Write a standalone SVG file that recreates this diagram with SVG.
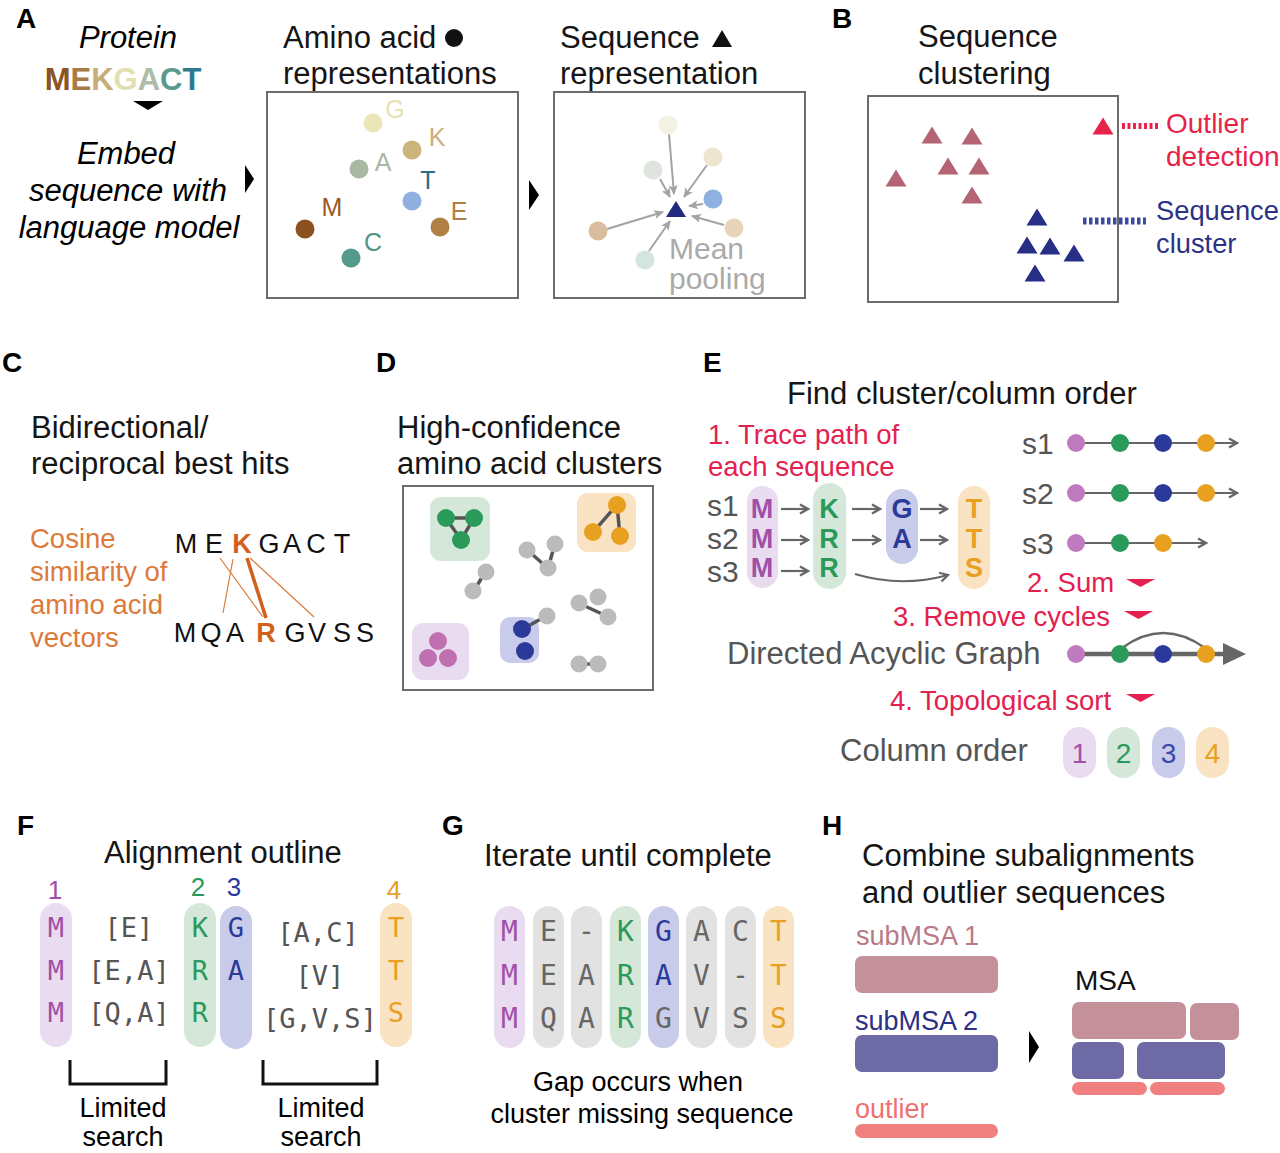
<svg xmlns="http://www.w3.org/2000/svg" width="1280" height="1153" viewBox="0 0 1280 1153">
<style>
text { font-family: "Liberation Sans", Arial, Helvetica, sans-serif; }
.pl { font-size: 28px; font-weight: bold; fill: #000; }
.ti { font-size: 31px; fill: #151515; }
.it { font-size: 31px; font-style: italic; fill: #000; text-anchor: middle; }
.box { fill: none; stroke: #6b6b6b; stroke-width: 2; }
.aa { font-size: 25px; text-anchor: middle; }
.red { font-size: 27.5px; fill: #e3204f; }
.gry { fill: #555; }
.org { fill: #dc7a3c; font-size: 27.5px; }
.seq { font-size: 27px; text-anchor: middle; fill: #111; }
.seqk { font-size: 27px; text-anchor: middle; font-weight: bold; fill: #d2601c; }
.mono { font-family: "DejaVu Sans Mono", "Liberation Mono", monospace; text-anchor: middle; }
.pb { font-size: 27px; font-weight: bold; text-anchor: middle; }
.lk { stroke: #555; stroke-width: 3.5; stroke-linecap: round; }
.ga { stroke: #a3a3a3; stroke-width: 2; fill: none; marker-end: url(#ha); }
.ea { stroke: #666; stroke-width: 2.2; fill: none; marker-end: url(#he); }
.cl { stroke: #dc7a3c; stroke-width: 1.2; }
.pP { fill: #eadcf0; } .pG { fill: #d5e7d8; } .pB { fill: #c8cbe9; } .pO { fill: #f9e3c3; } .pX { fill: #e2e2e2; }
.cP { fill: #a050a8; } .cG { fill: #2a9a5a; } .cB { fill: #2b3a9a; } .cO { fill: #e8a020; } .cX { fill: #666; }
.redtri { fill: #e3204f; }
</style>
<defs>
<marker id="ha" viewBox="0 0 10 10" refX="9" refY="5" markerWidth="10" markerHeight="10" markerUnits="userSpaceOnUse" orient="auto"><path d="M0,0.5 L10,5 L0,9.5 L2.5,5 Z" fill="#a3a3a3"/></marker>
<marker id="he" viewBox="0 0 12 12" refX="10" refY="6" markerWidth="12" markerHeight="12" markerUnits="userSpaceOnUse" orient="auto"><path d="M2,1.5 L10,6 L2,10.5" fill="none" stroke="#666" stroke-width="2.2"/></marker>
<path id="tri" d="M0,-8.5 L10.5,8.5 L-10.5,8.5 Z"/>
</defs>

<!-- ===== Panel A ===== -->
<g id="panelA">
  <text class="pl" x="16" y="28">A</text>
  <text class="it" x="128" y="48">Protein</text>
  <text x="123" y="90" text-anchor="middle" font-weight="bold" font-size="31"><tspan fill="#8a5424">M</tspan><tspan fill="#a87a45">E</tspan><tspan fill="#c7ad78">K</tspan><tspan fill="#e4dfb0">G</tspan><tspan fill="#aebca8">A</tspan><tspan fill="#5a9a8c">C</tspan><tspan fill="#2d7a92">T</tspan></text>
  <polygon points="133,101 163,101 148,110" fill="#000"/>
  <text class="it" x="126" y="164">Embed</text>
  <text class="it" x="128" y="201">sequence with</text>
  <text class="it" x="129" y="238">language model</text>
  <polygon points="245,165 245,193 254,179" fill="#000"/>
</g>
<g id="aa-box">
  <text class="ti" x="283" y="48">Amino acid</text>
  <circle cx="454" cy="38" r="9" fill="#111"/>
  <text class="ti" x="283" y="84">representations</text>
  <rect class="box" x="267" y="92" width="251" height="206"/>
  <polygon points="529,180 529,210 539,195" fill="#000"/>
</g>
<g id="aa-G"><circle cx="373" cy="123" r="9.5" fill="#ebe6b8"/><text class="aa" x="395" y="118" fill="#e6e2b5">G</text></g>
<g id="aa-K"><circle cx="412" cy="150" r="9.5" fill="#cbb37c"/><text class="aa" x="437" y="146" fill="#c9ae78">K</text></g>
<g id="aa-A"><circle cx="359" cy="169" r="9.5" fill="#a9b8a3"/><text class="aa" x="383" y="171" fill="#a9b7a5">A</text></g>
<g id="aa-T"><circle cx="412" cy="201" r="9.5" fill="#8fb0e0"/><text class="aa" x="428" y="189" fill="#2a6d88">T</text></g>
<g id="aa-M"><circle cx="305" cy="229" r="9.5" fill="#8b5220"/><text class="aa" x="332" y="216" fill="#9a5a24">M</text></g>
<g id="aa-E"><circle cx="440" cy="227" r="9.5" fill="#b08045"/><text class="aa" x="459" y="220" fill="#b08045">E</text></g>
<g id="aa-C"><circle cx="351" cy="258" r="9.5" fill="#559a8a"/><text class="aa" x="373" y="251" fill="#4f9485">C</text></g>

<g id="seq-box">
  <text class="ti" x="560" y="48">Sequence</text>
  <polygon points="712,47 732,47 722,30" fill="#111"/>
  <text class="ti" x="560" y="84">representation</text>
  <rect class="box" x="554" y="92" width="251" height="206"/>
</g>

<!-- ===== Panel B ===== -->
<g id="panelB">
  <text class="pl" x="832" y="28">B</text>
  <text class="ti" x="918" y="47">Sequence</text>
  <text class="ti" x="918" y="84">clustering</text>
  <rect class="box" x="868" y="96" width="250" height="206"/>
</g>
<g id="cluster1" fill="#b46473">
  <use href="#tri" x="932" y="135"/><use href="#tri" x="972" y="136"/><use href="#tri" x="948" y="166"/>
  <use href="#tri" x="979" y="166"/><use href="#tri" x="896" y="178"/><use href="#tri" x="972" y="195"/>
</g>
<g id="cluster2" fill="#262e86">
  <use href="#tri" x="1037" y="217"/><use href="#tri" x="1027" y="245"/><use href="#tri" x="1050" y="246"/>
  <use href="#tri" x="1074" y="253"/><use href="#tri" x="1035" y="273"/>
</g>
<g id="outlier"><use href="#tri" x="1103" y="126" fill="#e8234a"/></g>
<g id="outlier-label">
  <line x1="1122" y1="126" x2="1158" y2="126" stroke="#e8234a" stroke-width="6" stroke-dasharray="3 2.5"/>
  <text x="1166" y="133" font-size="28" fill="#e8234a">Outlier</text>
  <text x="1166" y="166" font-size="28" fill="#e8234a">detection</text>
</g>
<g id="cluster-label">
  <line x1="1083" y1="221" x2="1146" y2="221" stroke="#3a4aa0" stroke-width="7" stroke-dasharray="3.5 2.5"/>
  <text x="1156" y="220" font-size="27.3" fill="#2b3285">Sequence</text>
  <text x="1156" y="253" font-size="27.3" fill="#2b3285">cluster</text>
</g>

<!-- ===== Panel C ===== -->
<g id="panelC">
  <text class="pl" x="2" y="372">C</text>
  <text class="ti" x="31" y="438">Bidirectional/</text>
  <text class="ti" x="31" y="474">reciprocal best hits</text>
  <text class="org" x="30" y="548">Cosine</text>
  <text class="org" x="30" y="581">similarity of</text>
  <text class="org" x="30" y="614">amino acid</text>
  <text class="org" x="30" y="647">vectors</text>
</g>
<g id="seq-top">
  <text class="seq" x="186" y="553">M</text><text class="seq" x="214" y="553">E</text>
  <text class="seqk" x="242" y="553">K</text>
  <text class="seq" x="269" y="553">G</text><text class="seq" x="292" y="553">A</text>
  <text class="seq" x="316" y="553">C</text><text class="seq" x="342" y="553">T</text>
</g>
<g id="seq-bottom">
  <text class="seq" x="185" y="642">M</text><text class="seq" x="211" y="642">Q</text>
  <text class="seq" x="235" y="642">A</text>
  <text class="seqk" x="266" y="642">R</text>
  <text class="seq" x="295" y="642">G</text><text class="seq" x="317" y="642">V</text>
  <text class="seq" x="342" y="642">S</text><text class="seq" x="365" y="642">S</text>
</g>

<!-- ===== Panel D ===== -->
<g id="panelD">
  <text class="pl" x="376" y="372">D</text>
  <text class="ti" x="397" y="438">High-confidence</text>
  <text class="ti" x="397" y="474">amino acid clusters</text>
  <rect class="box" x="403" y="486" width="250" height="204"/>
</g>
<g id="d-green-bg"><rect x="430" y="497" width="60" height="64" rx="11" fill="#d5e7d8"/></g>
<g id="d-orange-bg"><rect x="577" y="493" width="59" height="59" rx="11" fill="#f9e3c3"/></g>
<g id="d-purple-bg"><rect x="412" y="623" width="57" height="57" rx="11" fill="#eadcf0"/></g>
<g id="d-blue-bg"><rect x="500" y="617" width="39" height="46" rx="10" fill="#c8cbe9"/></g>

<!-- ===== Panel E backgrounds ===== -->
<g id="panelE">
  <text class="pl" x="703" y="372">E</text>
  <text class="ti" x="787" y="404">Find cluster/column order</text>
  <text class="red" x="708" y="444">1. Trace path of</text>
  <text class="red" x="708" y="476">each sequence</text>
  <text class="gry" font-size="30" x="707" y="516">s1</text>
  <text class="gry" font-size="30" x="707" y="549">s2</text>
  <text class="gry" font-size="30" x="707" y="582">s3</text>
</g>
<g id="e-pill1"><rect class="pP" x="747" y="486" width="31" height="102" rx="15.5"/>
  <text class="pb cP" x="762" y="518">M</text><text class="pb cP" x="762" y="548">M</text><text class="pb cP" x="762" y="577">M</text></g>
<g id="e-pill2"><rect class="pG" x="813" y="483" width="33" height="106" rx="16.5"/>
  <text class="pb cG" x="829" y="518">K</text><text class="pb cG" x="829" y="548">R</text><text class="pb cG" x="829" y="577">R</text></g>
<g id="e-pill3"><rect class="pB" x="886" y="489" width="32" height="75" rx="16"/>
  <text class="pb cB" x="902" y="518">G</text><text class="pb cB" x="902" y="548">A</text></g>
<g id="e-pill4"><rect class="pO" x="958" y="486" width="32" height="103" rx="16"/>
  <text class="pb cO" x="974" y="518">T</text><text class="pb cO" x="974" y="548">T</text><text class="pb cO" x="974" y="577">S</text></g>

<g id="e-right-labels">
  <text class="gry" font-size="30" x="1022" y="454">s1</text>
  <text class="gry" font-size="30" x="1022" y="504">s2</text>
  <text class="gry" font-size="30" x="1022" y="554">s3</text>
  <text class="red" x="1027" y="592">2. Sum</text>
  <polygon class="redtri" points="1126,579 1155,579 1140.5,587"/>
  <text class="red" x="893" y="626">3. Remove cycles</text>
  <polygon class="redtri" points="1124,611 1153,611 1138.5,619"/>
  <text class="gry" font-size="31" x="727" y="664">Directed Acyclic Graph</text>
  <text class="red" x="890" y="710">4. Topological sort</text>
  <polygon class="redtri" points="1126,694 1155,694 1140.5,702"/>
  <text class="gry" font-size="31" x="840" y="761">Column order</text>
</g>
<g id="order1"><rect class="pP" x="1063" y="727" width="33" height="51" rx="16.5"/><text x="1079.5" y="763" font-size="28" text-anchor="middle" class="cP">1</text></g>
<g id="order2"><rect class="pG" x="1107" y="727" width="33" height="51" rx="16.5"/><text x="1123.5" y="763" font-size="28" text-anchor="middle" class="cG">2</text></g>
<g id="order3"><rect class="pB" x="1152" y="727" width="33" height="51" rx="16.5"/><text x="1168.5" y="763" font-size="28" text-anchor="middle" fill="#3a4aa8">3</text></g>
<g id="order4"><rect class="pO" x="1196" y="727" width="33" height="51" rx="16.5"/><text x="1212.5" y="763" font-size="28" text-anchor="middle" class="cO">4</text></g>

<!-- ===== Panel F ===== -->
<g id="panelF">
  <text class="pl" x="17" y="835">F</text>
  <text class="ti" x="104" y="863">Alignment outline</text>
  <text x="55" y="899" font-size="26" text-anchor="middle" class="cP">1</text>
  <text x="198" y="896" font-size="26" text-anchor="middle" class="cG">2</text>
  <text x="234" y="896" font-size="26" text-anchor="middle" class="cB">3</text>
  <text x="394" y="899" font-size="26" text-anchor="middle" class="cO">4</text>
</g>
<g id="f-col1"><rect class="pP" x="40" y="903" width="32" height="144" rx="16"/>
  <text class="mono cP" font-size="27" x="56" y="937">M</text><text class="mono cP" font-size="27" x="56" y="980">M</text><text class="mono cP" font-size="27" x="56" y="1022">M</text></g>
<g id="f-gap1">
  <text class="mono gry" font-size="27" x="129" y="937">[E]</text>
  <text class="mono gry" font-size="27" x="129" y="980">[E,A]</text>
  <text class="mono gry" font-size="27" x="129" y="1022">[Q,A]</text>
</g>
<g id="f-col2"><rect class="pG" x="184" y="903" width="32" height="144" rx="16"/>
  <text class="mono cG" font-size="27" x="200" y="937">K</text><text class="mono cG" font-size="27" x="200" y="980">R</text><text class="mono cG" font-size="27" x="200" y="1022">R</text></g>
<g id="f-col3"><rect class="pB" x="220" y="906" width="32" height="143" rx="16"/>
  <text class="mono cB" font-size="27" x="236" y="937">G</text><text class="mono cB" font-size="27" x="236" y="980">A</text></g>
<g id="f-gap2">
  <text class="mono gry" font-size="27" x="318" y="942">[A,C]</text>
  <text class="mono gry" font-size="27" x="320" y="985">[V]</text>
  <text class="mono gry" font-size="27" x="320" y="1028">[G,V,S]</text>
</g>
<g id="f-col4"><rect class="pO" x="380" y="903" width="32" height="144" rx="16"/>
  <text class="mono cO" font-size="27" x="396" y="937">T</text><text class="mono cO" font-size="27" x="396" y="980">T</text><text class="mono cO" font-size="27" x="396" y="1022">S</text></g>
<g id="f-search1">
  <path d="M70,1060 V1084 H166 V1060" fill="none" stroke="#111" stroke-width="3"/>
  <text x="123" y="1117" font-size="27" text-anchor="middle">Limited</text>
  <text x="123" y="1146" font-size="27" text-anchor="middle">search</text>
</g>
<g id="f-search2">
  <path d="M263,1060 V1084 H377 V1060" fill="none" stroke="#111" stroke-width="3"/>
  <text x="321" y="1117" font-size="27" text-anchor="middle">Limited</text>
  <text x="321" y="1146" font-size="27" text-anchor="middle">search</text>
</g>

<!-- ===== Panel G ===== -->
<g id="panelG">
  <text class="pl" x="442" y="835">G</text>
  <text class="ti" x="484" y="866">Iterate until complete</text>
  <text x="638" y="1091" font-size="27" text-anchor="middle">Gap occurs when</text>
  <text x="642" y="1123" font-size="27" text-anchor="middle">cluster missing sequence</text>
</g>
<g id="g-msa" font-size="28">
  <rect class="pP" x="494" y="906" width="31" height="142" rx="15.5"/>
  <rect class="pX" x="533" y="906" width="31" height="142" rx="15.5"/>
  <rect class="pX" x="571" y="906" width="31" height="142" rx="15.5"/>
  <rect class="pG" x="610" y="906" width="31" height="142" rx="15.5"/>
  <rect class="pB" x="648" y="906" width="31" height="142" rx="15.5"/>
  <rect class="pX" x="686" y="906" width="31" height="142" rx="15.5"/>
  <rect class="pX" x="725" y="906" width="31" height="142" rx="15.5"/>
  <rect class="pO" x="763" y="906" width="31" height="142" rx="15.5"/>
  <text class="mono cP" x="509.5" y="941">M</text><text class="mono cX" x="548.5" y="941">E</text><text class="mono cX" x="586.5" y="941">-</text><text class="mono cG" x="625.5" y="941">K</text><text class="mono cB" x="663.5" y="941">G</text><text class="mono cX" x="701.5" y="941">A</text><text class="mono cX" x="740.5" y="941">C</text><text class="mono cO" x="778.5" y="941">T</text>
  <text class="mono cP" x="509.5" y="985">M</text><text class="mono cX" x="548.5" y="985">E</text><text class="mono cX" x="586.5" y="985">A</text><text class="mono cG" x="625.5" y="985">R</text><text class="mono cB" x="663.5" y="985">A</text><text class="mono cX" x="701.5" y="985">V</text><text class="mono cX" x="740.5" y="985">-</text><text class="mono cO" x="778.5" y="985">T</text>
  <text class="mono cP" x="509.5" y="1028">M</text><text class="mono cX" x="548.5" y="1028">Q</text><text class="mono cX" x="586.5" y="1028">A</text><text class="mono cG" x="625.5" y="1028">R</text><text class="mono cX" x="663.5" y="1028">G</text><text class="mono cX" x="701.5" y="1028">V</text><text class="mono cX" x="740.5" y="1028">S</text><text class="mono cO" x="778.5" y="1028">S</text>
</g>

<!-- ===== Panel H ===== -->
<g id="panelH">
  <text class="pl" x="822" y="835">H</text>
  <text class="ti" x="862" y="866">Combine subalignments</text>
  <text class="ti" x="862" y="903">and outlier sequences</text>
</g>
<g id="h-sub1"><text x="856" y="945" font-size="27" fill="#b87a85">subMSA 1</text><rect x="855" y="956" width="143" height="37" rx="7" fill="#c4909a"/></g>
<g id="h-sub2"><text x="855" y="1030" font-size="27" fill="#2b2f86">subMSA 2</text><rect x="855" y="1035" width="143" height="37" rx="7" fill="#6e6aa6"/></g>
<g id="h-outlier"><text x="855" y="1118" font-size="27" fill="#f07070">outlier</text><rect x="855" y="1124" width="143" height="14" rx="7" fill="#f08080"/></g>
<g id="h-arrow"><polygon points="1029,1031 1029,1063 1039,1047" fill="#000"/></g>
<g id="h-msa">
  <text x="1075" y="990" font-size="28" fill="#111">MSA</text>
  <rect x="1072" y="1002" width="114" height="37" rx="7" fill="#c4909a"/>
  <rect x="1190" y="1003" width="49" height="37" rx="7" fill="#c4909a"/>
  <rect x="1072" y="1042" width="52" height="37" rx="7" fill="#6e6aa6"/>
  <rect x="1137" y="1042" width="88" height="37" rx="7" fill="#6e6aa6"/>
  <rect x="1072" y="1082" width="75" height="13" rx="6.5" fill="#f08080"/>
  <rect x="1150" y="1082" width="75" height="13" rx="6.5" fill="#f08080"/>
</g>

<!-- ===== Connectors ===== -->
<g id="connectors">
  <g id="pool-arrows">
    <line class="ga" x1="669" y1="134" x2="674" y2="194"/>
    <line class="ga" x1="707" y1="165" x2="684" y2="197"/>
    <line class="ga" x1="660" y1="179" x2="670" y2="197"/>
    <line class="ga" x1="703" y1="204" x2="689" y2="206"/>
    <line class="ga" x1="724" y1="225" x2="692" y2="216"/>
    <line class="ga" x1="607" y1="229" x2="663" y2="212"/>
    <line class="ga" x1="649" y1="251" x2="670" y2="221"/>
  </g>
  <g id="c-hits">
    <line class="cl" x1="233" y1="559" x2="223" y2="613"/>
    <line class="cl" x1="220" y1="558" x2="263" y2="617"/>
    <line x1="247" y1="558" x2="266" y2="618" stroke="#d2601c" stroke-width="3.5"/>
    <line class="cl" x1="250" y1="558" x2="314" y2="617"/>
  </g>
  <g id="d-links">
    <line class="lk" x1="455" y1="518" x2="465" y2="518"/>
    <line class="lk" x1="451" y1="525.5" x2="456" y2="532.5"/>
    <line class="lk" x1="469.4" y1="525.8" x2="465.6" y2="532.2"/>
    <line class="lk" x1="611" y1="511.7" x2="599" y2="525.3"/>
    <line class="lk" x1="617.9" y1="514" x2="619.1" y2="527"/>
    <line class="lk" x1="533.8" y1="555.8" x2="541.2" y2="562.2"/>
    <line class="lk" x1="552.5" y1="552.6" x2="550.5" y2="559.4"/>
    <line class="lk" x1="481" y1="579" x2="478" y2="584"/>
    <line class="lk" x1="587" y1="607" x2="600" y2="613"/>
    <line class="lk" x1="530" y1="625" x2="539" y2="620"/>
    <line class="lk" x1="586" y1="664" x2="591" y2="664"/>
  </g>
  <g id="e-trace">
    <line class="ea" x1="781" y1="509" x2="808" y2="509"/>
    <line class="ea" x1="781" y1="540" x2="808" y2="540"/>
    <line class="ea" x1="781" y1="571" x2="808" y2="571"/>
    <line class="ea" x1="852" y1="509" x2="880" y2="509"/>
    <line class="ea" x1="852" y1="540" x2="880" y2="540"/>
    <line class="ea" x1="920" y1="509" x2="947" y2="509"/>
    <line class="ea" x1="920" y1="540" x2="947" y2="540"/>
    <path class="ea" d="M855,574 Q901,588 948,575"/>
  </g>
  <g id="e-paths">
    <line class="ea" x1="1076" y1="443" x2="1237" y2="443"/>
    <line class="ea" x1="1076" y1="493" x2="1237" y2="493"/>
    <line class="ea" x1="1076" y1="543" x2="1206" y2="543"/>
    <line x1="1076" y1="654" x2="1228" y2="654" stroke="#666" stroke-width="4.5"/>
    <polygon points="1223,643 1246,654 1223,665" fill="#666"/>
    <path d="M1122,648 Q1163,618 1205,648" fill="none" stroke="#666" stroke-width="2.5"/>
  </g>
</g>

<!-- ===== Dots drawn above connectors ===== -->
<g id="pool-dots">
  <circle cx="668" cy="125" r="9.5" fill="#f3f1e1"/>
  <circle cx="713" cy="157" r="9.5" fill="#efe5cf"/>
  <circle cx="653" cy="170" r="9.5" fill="#dfe4de"/>
  <circle cx="713" cy="199" r="9.5" fill="#8fb0e0"/>
  <circle cx="734" cy="228" r="9.5" fill="#e8d4b8"/>
  <circle cx="598" cy="231" r="9.5" fill="#d9bd9f"/>
  <circle cx="645" cy="260" r="9.5" fill="#d3e5de"/>
  <polygon points="666,217 686,217 676,201" fill="#23297f"/>
  <text x="669" y="259" font-size="30" fill="#aaa">Mean</text>
  <text x="669" y="289" font-size="30" fill="#aaa">pooling</text>
</g>
<g id="d-green" class="cG"><circle cx="446" cy="518" r="9"/><circle cx="474" cy="518" r="9"/><circle cx="461" cy="540" r="9"/></g>
<g id="d-orange" class="cO"><circle cx="617" cy="505" r="9"/><circle cx="593" cy="532" r="9"/><circle cx="620" cy="536" r="9"/></g>
<g id="d-purple" fill="#c070b0"><circle cx="438" cy="641" r="9"/><circle cx="428" cy="658" r="9"/><circle cx="448" cy="658" r="9"/></g>
<g id="d-blue" fill="#2b3a9a"><circle cx="522" cy="629" r="9"/><circle cx="525" cy="651" r="9"/></g>
<g id="d-gray" fill="#bbb">
  <circle cx="527" cy="550" r="8.5"/><circle cx="555" cy="544" r="8.5"/><circle cx="548" cy="568" r="8.5"/>
  <circle cx="486" cy="572" r="8.5"/><circle cx="473" cy="591" r="8.5"/>
  <circle cx="598" cy="597" r="8.5"/><circle cx="579" cy="603" r="8.5"/><circle cx="608" cy="617" r="8.5"/>
  <circle cx="547" cy="616" r="8.5"/>
  <circle cx="579" cy="664" r="8.5"/><circle cx="598" cy="664" r="8.5"/>
</g>
<g id="e-dots-s1"><circle cx="1076" cy="443" r="9" fill="#c07ac0"/><circle cx="1120" cy="443" r="9" class="cG"/><circle cx="1163" cy="443" r="9" class="cB"/><circle cx="1206" cy="443" r="9" class="cO"/></g>
<g id="e-dots-s2"><circle cx="1076" cy="493" r="9" fill="#c07ac0"/><circle cx="1120" cy="493" r="9" class="cG"/><circle cx="1163" cy="493" r="9" class="cB"/><circle cx="1206" cy="493" r="9" class="cO"/></g>
<g id="e-dots-s3"><circle cx="1076" cy="543" r="9" fill="#c07ac0"/><circle cx="1120" cy="543" r="9" class="cG"/><circle cx="1163" cy="543" r="9" class="cO"/></g>
<g id="e-dag"><circle cx="1076" cy="654" r="9" fill="#c07ac0"/><circle cx="1120" cy="654" r="9" class="cG"/><circle cx="1163" cy="654" r="9" class="cB"/><circle cx="1206" cy="654" r="9" class="cO"/></g>
</svg>
